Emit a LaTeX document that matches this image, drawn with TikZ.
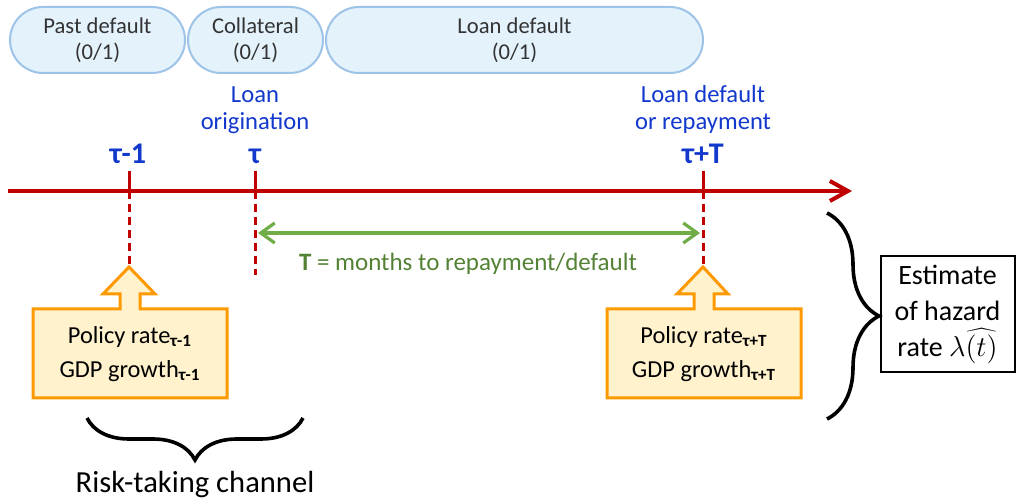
\documentclass[tikz,border=0pt]{standalone}
\usepackage{fontspec}
\setmainfont{Carlito}
\usetikzlibrary{arrows.meta}
\usetikzlibrary{decorations.pathreplacing}
\definecolor{axisred}{RGB}{192,0,0}
\definecolor{labelblue}{RGB}{18,56,204}
\definecolor{spangreen}{RGB}{112,173,71}
\definecolor{spantext}{RGB}{84,130,53}
\definecolor{pillfill}{RGB}{228,242,252}
\definecolor{pillline}{RGB}{157,195,230}
\definecolor{boxfill}{RGB}{255,242,204}
\definecolor{boxline}{RGB}{255,153,0}
\tikzstyle{pill}=[draw=pillline, fill=pillfill, line width=1pt, rounded corners=16.5pt, minimum height=33pt, inner sep=0pt, align=center, text=black!80, font=\fontsize{11.3}{13}\selectfont]
\tikzstyle{bluelab}=[text=labelblue, align=center, font=\fontsize{12.3}{13.5}\selectfont]
\tikzstyle{taulab}=[text=labelblue, anchor=base, font=\fontsize{15}{17}\selectfont\bfseries]
\tikzstyle{tick}=[draw=axisred, line width=1.5pt]
\tikzstyle{droptick}=[tick, dash pattern=on 4pt off 2.5pt]
\tikzstyle{callout}=[draw=boxline, fill=boxfill, line width=1.5pt, line join=miter]
\tikzstyle{calltext}=[align=center, font=\fontsize{12.2}{17}\selectfont]
\tikzstyle{bigbrace}=[draw, decorate, line width=1.8pt]
\newcommand{\sub}[1]{\textsubscript{\textbf{#1}}}

\begin{document}
\begin{tikzpicture}[x=0.5pt, y=-0.5pt]
    \useasboundingbox (0,0) rectangle (1016,501);

    % what is known at each date
    \node[pill, minimum width=87.5pt] (past) at (97.5,40) {Past default\\(0/1)};
    \node[pill, minimum width=67.5pt] (coll) at (255.5,40) {Collateral\\(0/1)};
    \node[pill, minimum width=188.5pt] (ldef) at (514.5,40) {Loan default\\(0/1)};

    \node[bluelab] (orig) at (255,110) {Loan\\origination};
    \node[bluelab] (repay) at (703,109) {Loan default\\or repayment};

    \node[taulab] (t0) at (128,164) {τ-1};
    \node[taulab] (t1) at (255,164) {τ};
    \node[taulab] (t2) at (703,164) {τ+T};

    % time axis
    \coordinate (a0) at (8,191);
    \coordinate (a1) at (852,191);
    \draw[axisred, line width=2pt, -{Straight Barb[length=9pt, width=10pt]}] (a0) -- (a1);

    \coordinate (k0) at (129,191);
    \coordinate (k1) at (255,191);
    \coordinate (k2) at (703,191);
    \draw[tick] (129,171) -- (k0);
    \draw[tick] (255,171) -- (k1);
    \draw[tick] (703,171) -- (k2);

    \coordinate (p0) at (129,267);
    \coordinate (p1) at (255,275);
    \coordinate (p2) at (703,267);
    \draw[droptick] (k0) -- (p0);
    \draw[droptick] (k1) -- (p1);
    \draw[droptick] (k2) -- (p2);

    \coordinate (s0) at (258,233);
    \coordinate (s1) at (700,233);
    \draw[spangreen, line width=1.6pt, {Straight Barb[length=7pt, width=10pt]}-{Straight Barb[length=7pt, width=10pt]}] (s0) -- (s1);
    \node[text=spantext, anchor=base, font=\fontsize{12.5}{14}\selectfont] (span) at (468,271) {\textbf{T} = months to repayment/default};

    % macro variables
    \draw[callout] (33,309) -- (120,309) -- (120,294) -- (103,294) -- (p0)
        -- (155,294) -- (140,294) -- (140,309) -- (227,309) -- (227,398) -- (33,398) -- cycle;
    \node[calltext] (mac0) at (130,354) {Policy rate\sub{τ-1}\\GDP growth\sub{τ-1}};

    \draw[callout] (607,309) -- (694,309) -- (694,294) -- (677,294) -- (p2)
        -- (728,294) -- (714,294) -- (714,309) -- (801,309) -- (801,398) -- (607,398) -- cycle;
    \node[calltext] (mac1) at (704,354) {Policy rate\sub{τ+T}\\GDP growth\sub{τ+T}};

    \coordinate (b0) at (303,418);
    \coordinate (b1) at (87,418);
    \draw[bigbrace, decoration={brace, amplitude=21pt}] (b0) -- (b1);
    \node[anchor=base, font=\fontsize{15.3}{18}\selectfont] (risk) at (195,492) {Risk-taking channel};

    \coordinate (c0) at (827,213);
    \coordinate (c1) at (827,419);
    \draw[bigbrace, decoration={brace, amplitude=26pt}] (c0) -- (c1);
    \node[draw, line width=1pt, minimum width=67pt, minimum height=58pt, inner sep=1pt, align=center,
        font=\fontsize{14}{18}\selectfont] (hazard) at (947.5,314) {Estimate\\of hazard\\rate $\lambda\widehat{(t)}$};
\end{tikzpicture}
\end{document}
